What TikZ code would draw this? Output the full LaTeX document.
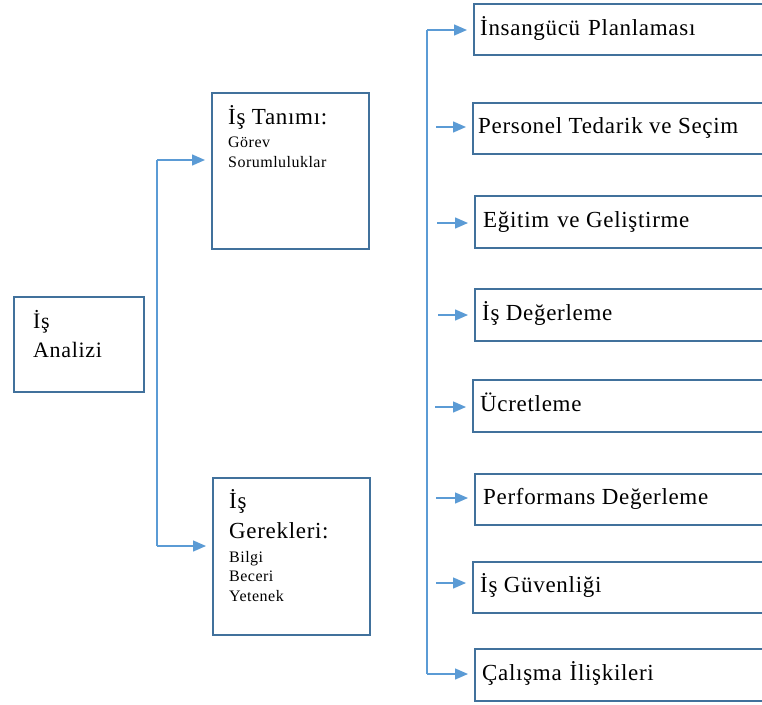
\documentclass[tikz,border=0pt]{standalone}
\usepackage{fontspec}
\setmainfont{Liberation Serif}[LetterSpace=3]
\usetikzlibrary{arrows.meta}
\definecolor{linkblue}{RGB}{91,155,213}
\definecolor{boxblue}{RGB}{65,113,156}
\tikzset{
  boxframe/.style={draw=boxblue, line width=2pt, fill=white, inner sep=0pt, anchor=north west},
  bigtxt/.style={anchor=base west, inner sep=0pt, font=\fontsize{23}{29}\selectfont},
  roottxt/.style={anchor=base west, inner sep=0pt, font=\fontsize{22}{29}\selectfont},
  smalltxt/.style={anchor=base west, inner sep=0pt, font=\fontsize{16}{20}\selectfont},
  link/.style={draw=linkblue, line width=1.4pt},
  arr/.style={link, -{Triangle[length=13pt, width=11pt]}, shorten >=6pt},
}
\begin{document}
\begin{tikzpicture}[x=1pt, y=-1pt]
  \useasboundingbox (0,0) rectangle (762,704);
  \clip (0,0) rectangle (762,704);

  % root box
  \node[boxframe, minimum width=130, minimum height=95] (root) at (13,296) {};
  \node[roottxt] (rootA) at (33,328) {İş};
  \node[roottxt] (rootB) at (33,357) {Analizi};

  % job description / job requirements
  \node[boxframe, minimum width=157, minimum height=156] (tanim) at (211,92) {};
  \node[bigtxt] (tanimA) at (228,124) {İş Tanımı:};
  \node[smalltxt] (tanimB) at (228,147) {Görev};
  \node[smalltxt] (tanimC) at (228,167) {Sorumluluklar};

  \node[boxframe, minimum width=157, minimum height=157] (gerek) at (212,477) {};
  \node[bigtxt] (gerekA) at (229,508) {İş};
  \node[bigtxt] (gerekB) at (229,538) {Gerekleri:};
  \node[smalltxt] (gerekC) at (229,562) {Bilgi};
  \node[smalltxt] (gerekD) at (229,581) {Beceri};
  \node[smalltxt] (gerekE) at (229,601) {Yetenek};

  % left trunk
  \coordinate (lt) at (157,160);
  \coordinate (lb) at (157,546);
  \draw[link] (lt) -- (lb);
  \draw[arr] (lt) -- (lt -| tanim.west);
  \draw[arr] (lb) -- (lb -| gerek.west);

  % HR function boxes
  \node[boxframe, minimum width=320, minimum height=51] (r1) at (473,3) {};
  \node[boxframe, minimum width=320, minimum height=51] (r2) at (472,102) {};
  \node[boxframe, minimum width=320, minimum height=52] (r3) at (474,195) {};
  \node[boxframe, minimum width=320, minimum height=52] (r4) at (474,288) {};
  \node[boxframe, minimum width=320, minimum height=52] (r5) at (472,379) {};
  \node[boxframe, minimum width=320, minimum height=51] (r6) at (474,473) {};
  \node[boxframe, minimum width=320, minimum height=51] (r7) at (472,561) {};
  \node[boxframe, minimum width=320, minimum height=52] (r8) at (474,648) {};

  \node[bigtxt] (t1) at (480,35) {İnsangücü\hspace{8pt}Planlaması};
  \node[bigtxt] (t2) at (478,133) {Personel Tedarik ve Seçim};
  \node[bigtxt] (t3) at (483,227) {Eğitim\hspace{8pt}ve Geliştirme};
  \node[bigtxt] (t4) at (482,320) {İş Değerleme};
  \node[bigtxt] (t5) at (480,411) {Ücretleme};
  \node[bigtxt] (t6) at (483,504) {Performans Değerleme};
  \node[bigtxt] (t7) at (480,592) {İş Güvenliği};
  \node[bigtxt] (t8) at (482,680) {Çalışma\hspace{8pt}İlişkileri};

  % right trunk
  \coordinate (rt) at (427,30);
  \coordinate (rb) at (427,674);
  \draw[link] (rt) -- (rb);
  \draw[arr] (rt) -- (rt -| r1.west);
  \draw[arr] (rb) -- (rb -| r8.west);
  \coordinate (s2) at (436,127);
  \coordinate (s3) at (437,223);
  \coordinate (s4) at (438,315);
  \coordinate (s5) at (435,407);
  \coordinate (s6) at (436,498);
  \coordinate (s7) at (436,583);
  \draw[arr] (s2) -- (s2 -| r2.west);
  \draw[arr] (s3) -- (s3 -| r3.west);
  \draw[arr] (s4) -- (s4 -| r4.west);
  \draw[arr] (s5) -- (s5 -| r5.west);
  \draw[arr] (s6) -- (s6 -| r6.west);
  \draw[arr] (s7) -- (s7 -| r7.west);
\end{tikzpicture}
\end{document}
